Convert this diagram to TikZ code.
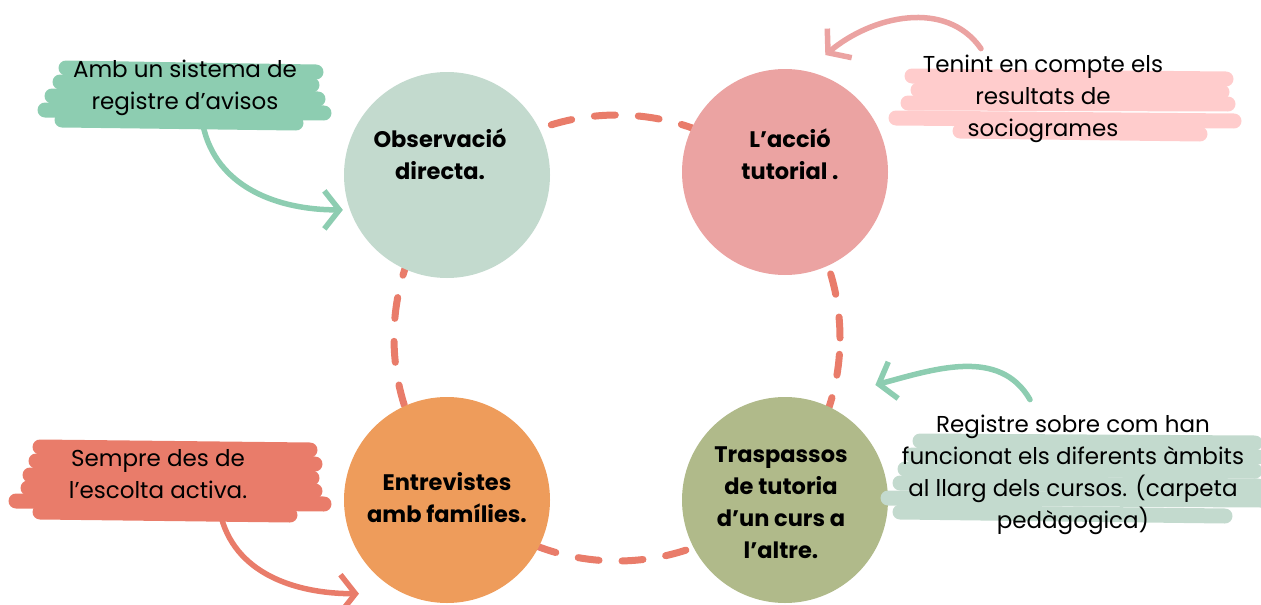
\documentclass[tikz,border=0pt]{standalone}
\usepackage{fontspec}
\setmainfont{Poppins}
\usetikzlibrary{arrows.meta, positioning}
\definecolor{salmon}{HTML}{E97C6A}
\definecolor{sage}{HTML}{C3DACE}
\definecolor{rose}{HTML}{EBA3A2}
\definecolor{apricot}{HTML}{EE9C5B}
\definecolor{olive}{HTML}{B0BA8A}
\definecolor{mint}{HTML}{8DCDB1}
\definecolor{blush}{HTML}{FFCCCC}
\tikzset{
    bubble/.style={circle, minimum size=206pt, inner sep=0pt},
    title/.style={font=\fontsize{22.5}{32}\selectfont\bfseries, align=center},
    note/.style={font=\fontsize{23}{32}\selectfont, align=center},
    scribble/.style={draw=#1, line width=15pt, line cap=round},
    pointer/.style={draw=#1, line width=5.5pt, line cap=round, -{Straight Barb[length=15pt, width=38pt]}},
    ring/.style={draw=salmon, line width=7pt, line cap=round, dash pattern=on 21pt off 23pt},
}

\begin{document}
\begin{tikzpicture}[x=1pt, y=-1pt]
\useasboundingbox (0,0) rectangle (1261,605);
% dashed loop behind the circles
\draw[ring] (617,338) circle (223pt);

\node[bubble, fill=sage] (obs) at (447,175) {};
\node[bubble, fill=rose] (acc) at (785,172) {};
\node[bubble, fill=apricot] (ent) at (447,500) {};
\node[bubble, fill=olive] (trs) at (785,500) {};
\node[title] (obstxt) at (440,154) {Observació\\directa.};
\node[title] (acctxt) at (790,154) {L’acció\\tutorial .};
\node[title] (enttxt) at (447,498) {Entrevistes\\amb famílies.};
\node[title] (trstxt) at (781,503) {Traspassos\\de tutoria\\d’un curs a\\l’altre.};

% highlights
\foreach \xa/\ya/\xb/\yb in {66/68/316/72, 60/82/312/85, 52/96/318/99, 45/110/324/113, 62/120/296/123}
    \draw[scribble=mint] (\xa,\ya) -- (\xb,\yb);
\foreach \xa/\ya/\xb/\yb in {912/76/1226/79, 918/90/1222/92, 908/103/1228/104, 896/118/1234/121, 960/131/1200/134}
    \draw[scribble=blush] (\xa,\ya) -- (\xb,\yb);
\foreach \xa/\ya/\xb/\yb in {40/447/310/450, 36/461/315/464, 30/475/312/478, 28/488/315/491, 16/501/324/504, 40/512/290/515}
    \draw[scribble=salmon] (\xa,\ya) -- (\xb,\yb);
\foreach \xa/\ya/\xb/\yb in {920/441/1255/443, 912/455/1258/457, 905/469/1255/471, 900/483/1258/486, 888/498/1261/500, 900/512/1225/516}
    \draw[scribble=sage] (\xa,\ya) -- (\xb,\yb);

\node[note] (avisos) at (185,88) {Amb un sistema de\\registre d’avisos};
\node[note] (tenint) at (1043,99) {Tenint en compte els\\resultats de\\sociogrames};
\node[note] (sempre) at (158,474) {Sempre des de\\l’escolta activa.};
\node[note] (registre) at (1073,475) {Registre sobre com han\\funcionat els diferents àmbits\\al llarg dels cursos. (carpeta\\pedàgogica)};

% arrows
\draw[pointer=mint] ([xshift=18pt, yshift=-6pt]avisos.south) to[out=-78, in=180] ([xshift=-6pt, yshift=-3pt]obs.198);
\draw[pointer=rose] ([xshift=-62pt, yshift=3pt]tenint.north) to[out=125, in=40] ([yshift=22pt]acc.67);
\draw[pointer=mint] ([xshift=-43pt, yshift=12pt]registre.north) to[out=120, in=15] ([xshift=24pt, yshift=36pt]trs.50);
\draw[pointer=salmon] ([xshift=62pt, yshift=-10pt]sempre.south) to[out=-78, in=180] ([xshift=-19pt, yshift=-17pt]ent.228);
\end{tikzpicture}
\end{document}
